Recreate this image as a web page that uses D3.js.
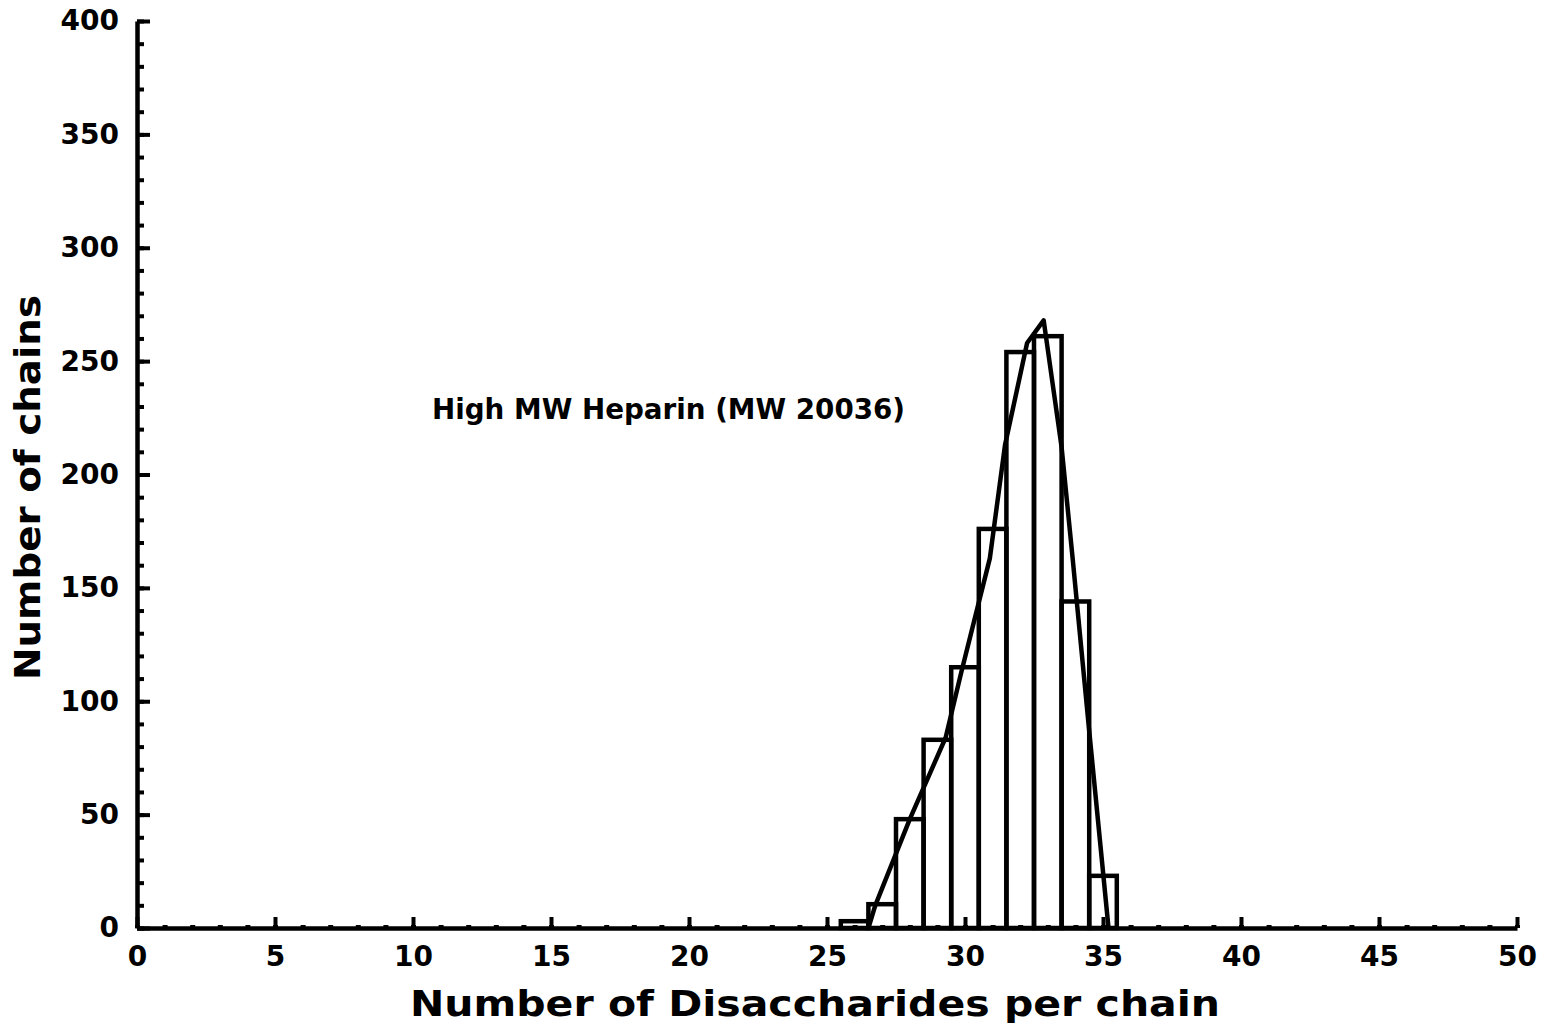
<!DOCTYPE html>
<html>
<head>
<meta charset="utf-8">
<script src="https://cdn.jsdelivr.net/npm/d3@7"></script>
<style>
  html, body { margin: 0; padding: 0; background: #fff; }
  svg { display: block; }
  text { font-family: "DejaVu Sans", sans-serif; fill: #000; }
</style>
</head>
<body>
<svg id="chart" width="1549" height="1030"></svg>
<script>
// ---- data ----
const categories = [26, 27, 28, 29, 30, 31, 32, 33, 34, 35];
const counts     = [3, 10.5, 48, 83, 115, 176, 254, 261, 144, 23];
const curveX = [26.5, 26.75, 28.0, 29.3, 29.85, 30.9, 31.45, 32.25, 32.85, 33.5, 33.9, 34.5, 35.2];
const curveY = [0, 10, 48, 84, 112, 163, 213, 258, 268, 212, 163, 87, 0];
const xTicks = [0, 5, 10, 15, 20, 25, 30, 35, 40, 45, 50];
const yTicks = [0, 50, 100, 150, 200, 250, 300, 350, 400];
const xLabel = "Number of Disaccharides per chain";
const yLabel = "Number of chains";
const note = "High MW Heparin (MW 20036)";

const svg = d3.select("#chart");
const x = d3.scaleLinear().domain([0, 50]).range([137, 1517]);
const y = d3.scaleLinear().domain([0, 400]).range([928, 21]);

const SW = 4.5;

// minor y ticks
svg.append("g").attr("transform", `translate(${x(0)},0)`)
  .call(d3.axisLeft(y).tickValues(d3.range(0, 401, 10)).tickSizeInner(-7).tickSizeOuter(0).tickFormat(""))
  .call(g => g.select(".domain").remove())
  .call(g => g.selectAll("line").attr("stroke", "#000").attr("stroke-width", 4));

// major y axis
svg.append("g").attr("transform", `translate(${x(0)},0)`)
  .call(d3.axisLeft(y).tickValues(yTicks).tickSizeInner(-13).tickSizeOuter(0).tickPadding(18))
  .call(g => g.select(".domain").attr("stroke", "#000").attr("stroke-width", SW))
  .call(g => g.selectAll("line").attr("stroke", "#000").attr("stroke-width", 4))
  .call(g => g.selectAll("text").attr("font-size", 28).attr("font-weight", "bold")
      .attr("font-family", "'DejaVu Sans', sans-serif").attr("fill", "#000"));

// minor x ticks
svg.append("g").attr("transform", `translate(0,${y(0)})`)
  .call(d3.axisBottom(x).tickValues(d3.range(0, 51, 1)).tickSizeInner(-3).tickSizeOuter(0).tickFormat(""))
  .call(g => g.select(".domain").remove())
  .call(g => g.selectAll("line").attr("stroke", "#000").attr("stroke-width", 5));

// major x axis
svg.append("g").attr("transform", `translate(0,${y(0)})`)
  .call(d3.axisBottom(x).tickValues(xTicks).tickSizeInner(-11).tickSizeOuter(0).tickPadding(18))
  .call(g => g.select(".domain").attr("stroke", "#000").attr("stroke-width", SW))
  .call(g => g.selectAll("line").attr("stroke", "#000").attr("stroke-width", 4))
  .call(g => g.selectAll("text").attr("font-size", 28).attr("font-weight", "bold")
      .attr("font-family", "'DejaVu Sans', sans-serif").attr("fill", "#000"));

// bars
svg.append("g").selectAll("rect").data(categories).join("rect")
  .attr("x", d => x(d - 0.5))
  .attr("width", d => x(d + 0.5) - x(d - 0.5))
  .attr("y", (d, i) => y(counts[i]))
  .attr("height", (d, i) => y(0) - y(counts[i]))
  .attr("fill", "none").attr("stroke", "#000").attr("stroke-width", SW)
  .attr("stroke-linejoin", "miter");

// fitted curve
const pts = curveX.map((v, i) => [v, curveY[i]]);
svg.append("path").datum(pts)
  .attr("d", d3.line().x(d => x(d[0])).y(d => y(d[1])))
  .attr("fill", "none").attr("stroke", "#000").attr("stroke-width", SW)
  .attr("stroke-linejoin", "round");

// annotation
svg.append("text").attr("x", 432).attr("y", 419)
  .attr("font-size", 28).attr("font-weight", "bold")
  .attr("textLength", 473).attr("lengthAdjust", "spacingAndGlyphs")
  .text(note);

// x axis title
svg.append("text").attr("x", 410).attr("y", 1016)
  .attr("font-size", 35).attr("font-weight", "bold")
  .attr("textLength", 810).attr("lengthAdjust", "spacingAndGlyphs")
  .text(xLabel);

// y axis title
svg.append("text").attr("transform", "translate(40,680) rotate(-90)")
  .attr("font-size", 35).attr("font-weight", "bold")
  .attr("textLength", 385).attr("lengthAdjust", "spacingAndGlyphs")
  .text(yLabel);
</script>
</body>
</html>
